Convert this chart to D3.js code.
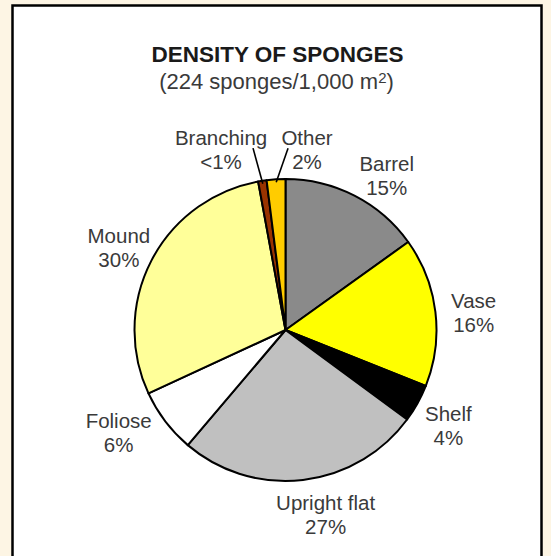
<!DOCTYPE html>
<html>
<head>
<meta charset="utf-8">
<script src="https://cdn.jsdelivr.net/npm/d3@7"></script>
<style>
  html, body { margin: 0; padding: 0; background: #fdf5e4; }
  svg { display: block; }
</style>
</head>
<body>
<svg id="chart" width="551" height="556"></svg>
<script>
// ---- data ----
const categories = ["Barrel", "Vase", "Shelf", "Upright flat", "Foliose", "Mound", "Branching", "Other"];
const values     = [15.1, 15.95, 4.05, 26.1, 6.9, 29.0, 0.9, 2.0];
const pctLabels  = ["15%", "16%", "4%", "27%", "6%", "30%", "<1%", "2%"];
const colors     = ["#8a8a8a", "#ffff00", "#000000", "#c0c0c0", "#ffffff", "#ffff99", "#993300", "#ffcc00"];
const titleText  = "DENSITY OF SPONGES";
const subtitleParts = ["(224 sponges/1,000 m", "2", ")"];

// ---- layout ----
const W = 551, H = 556;
const cx = 285.5, cy = 330, R = 151;
const svg = d3.select("#chart");

// frame
svg.append("rect").attr("x", 12.5).attr("y", 5.5).attr("width", 529).attr("height", 560)
  .attr("fill", "#ffffff").attr("stroke", "#000").attr("stroke-width", 2.5);

// title
svg.append("text").attr("x", 277.5).attr("y", 62)
  .attr("text-anchor", "middle")
  .attr("font-family", "Liberation Sans, Arial, sans-serif")
  .attr("font-weight", "bold").attr("font-size", 22.5).attr("fill", "#1a1a1a")
  .text(titleText);

const sub = svg.append("text").attr("x", 276.5).attr("y", 89)
  .attr("text-anchor", "middle")
  .attr("font-family", "Liberation Sans, Arial, sans-serif")
  .attr("font-size", 22).attr("fill", "#3a3a3a");
sub.append("tspan").text(subtitleParts[0]);
sub.append("tspan").attr("font-size", 15).attr("dy", -6).text(subtitleParts[1]);
sub.append("tspan").attr("dy", 6).text(subtitleParts[2]);

// pie
const pie = d3.pie().sort(null).value(d => d.v).startAngle(0).endAngle(2 * Math.PI);
const data = categories.map((c, i) => ({ name: c, v: values[i], pct: pctLabels[i], color: colors[i] }));
const arcs = pie(data);
const arc = d3.arc().innerRadius(0).outerRadius(R);

const g = svg.append("g").attr("transform", `translate(${cx},${cy})`);
g.selectAll("path.slice").data(arcs).join("path")
  .attr("class", "slice")
  .attr("d", arc)
  .attr("fill", d => d.data.color)
  .attr("stroke", "#000").attr("stroke-width", 2).attr("stroke-linejoin", "round");

// labels
const labelR = 189;
const angleNudge = { "Barrel": 6, "Vase": 1.5, "Shelf": 1.4, "Upright flat": -5.6, "Foliose": 5.6, "Mound": -1, "Branching": -10.8, "Other": 10.4 };
const radNudge = { "Barrel": -4, "Foliose": 7, "Mound": -3, "Branching": 3, "Other": -7 };
const deg = Math.PI / 180;

arcs.forEach(a => {
  const name = a.data.name;
  const mid = (a.startAngle + a.endAngle) / 2 + (angleNudge[name] || 0) * deg;
  const r = labelR + (radNudge[name] || 0);
  const lx = Math.sin(mid) * r;
  const ly = -Math.cos(mid) * r;
  const t = g.append("text")
    .attr("text-anchor", "middle")
    .attr("font-family", "Liberation Sans, Arial, sans-serif")
    .attr("font-size", 20.5).attr("fill", "#3a3a3a");
  t.append("tspan").attr("x", lx).attr("y", ly - 4.5).text(name);
  t.append("tspan").attr("x", lx).attr("y", ly + 19.5).text(a.data.pct);

  if (name === "Branching" || name === "Other") {
    const m = (a.startAngle + a.endAngle) / 2;
    const ex = Math.sin(m) * (R - 3), ey = -Math.cos(m) * (R - 3);
    const sx = lx + (name === "Branching" ? 32 : -19);
    const sy = ly - 1;
    g.append("line").attr("x1", sx).attr("y1", sy).attr("x2", ex).attr("y2", ey)
      .attr("stroke", "#000").attr("stroke-width", 1.6);
  }
});
</script>
</body>
</html>
